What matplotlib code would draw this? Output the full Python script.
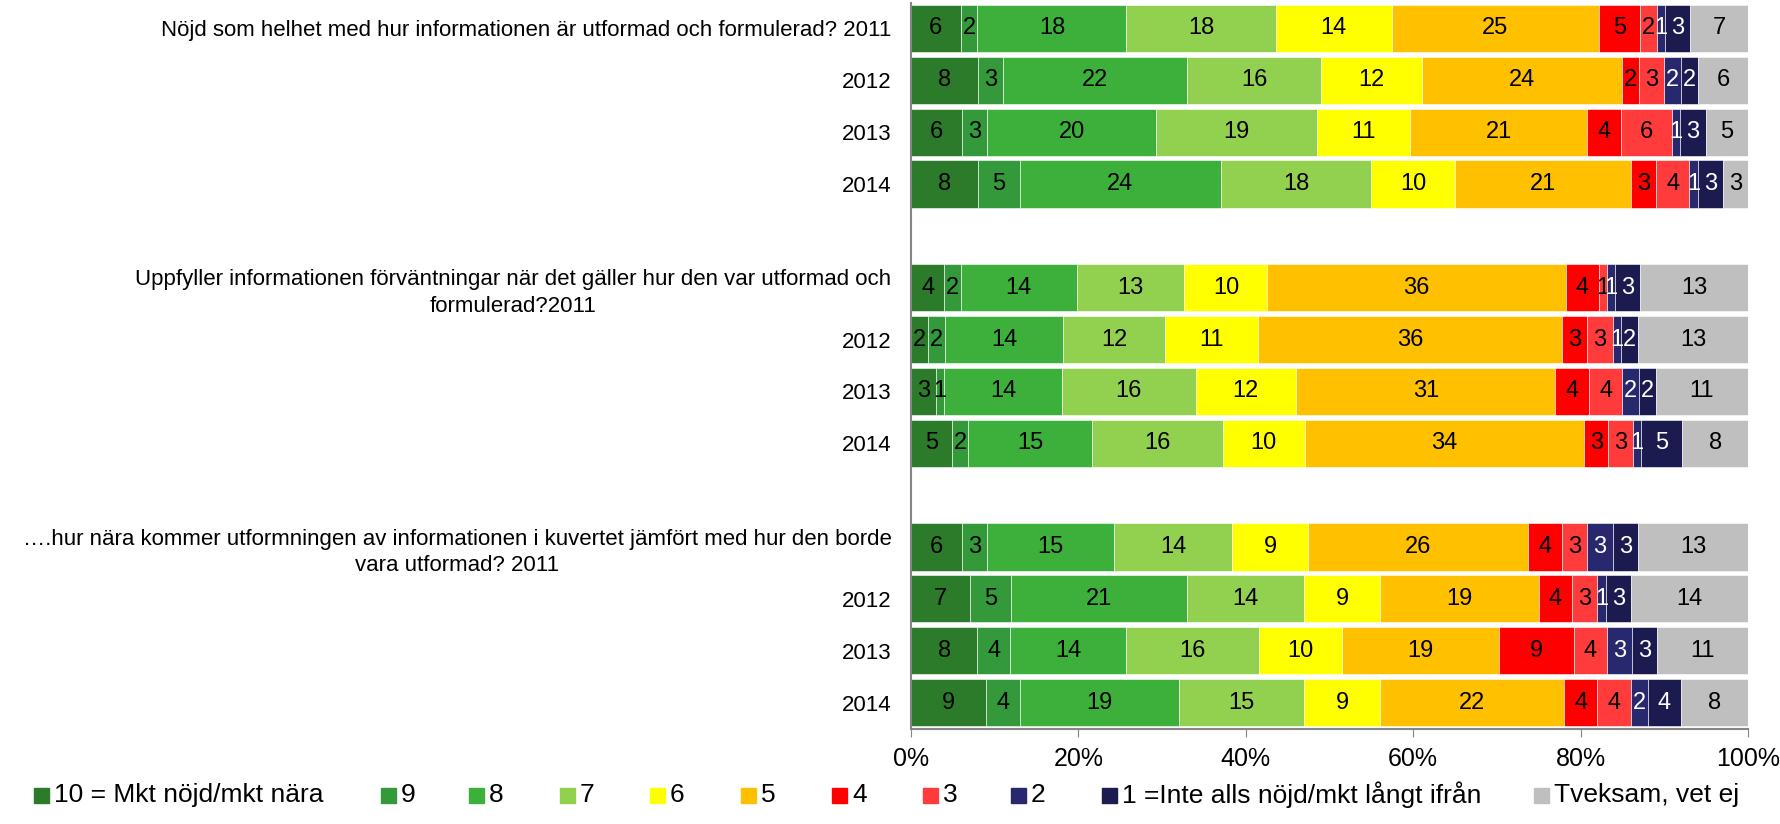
import numpy as np
import matplotlib
matplotlib.use('Agg')
from matplotlib import pyplot as plt
from matplotlib.patches import Rectangle

plt.rcParams['font.family'] = ['Liberation Sans', 'DejaVu Sans']

# categories (top to bottom); empty strings are the gaps between questions
labels = [
    'Nöjd som helhet med hur informationen är utformad och formulerad? 2011',
    '2012', '2013', '2014', '',
    'Uppfyller informationen förväntningar när det gäller hur den var utformad och\nformulerad?2011',
    '2012', '2013', '2014', '',
    '….hur nära kommer utformningen av informationen i kuvertet jämfört med hur den borde\nvara utformad? 2011',
    '2012', '2013', '2014',
]

series = ['10 = Mkt nöjd/mkt nära', '9', '8', '7', '6', '5', '4', '3', '2',
          '1 =Inte alls nöjd/mkt långt ifrån', 'Tveksam, vet ej']
colors = ['#2B7B2B', '#33993A', '#3DB03B', '#92D050', '#FFFF00', '#FFC000',
          '#FF0000', '#FF3B3B', '#28286E', '#1B1B4F', '#BFBFBF']
text_colors = ['black'] * 8 + ['white', 'white', 'black']

# values per row, in series order (None = empty row)
values = [
    [6, 2, 18, 18, 14, 25, 5, 2, 1, 3, 7],
    [8, 3, 22, 16, 12, 24, 2, 3, 2, 2, 6],
    [6, 3, 20, 19, 11, 21, 4, 6, 1, 3, 5],
    [8, 5, 24, 18, 10, 21, 3, 4, 1, 3, 3],
    None,
    [4, 2, 14, 13, 10, 36, 4, 1, 1, 3, 13],
    [2, 2, 14, 12, 11, 36, 3, 3, 1, 2, 13],
    [3, 1, 14, 16, 12, 31, 4, 4, 2, 2, 11],
    [5, 2, 15, 16, 10, 34, 3, 3, 1, 5, 8],
    None,
    [6, 3, 15, 14, 9, 26, 4, 3, 3, 3, 13],
    [7, 5, 21, 14, 9, 19, 4, 3, 1, 3, 14],
    [8, 4, 14, 16, 10, 19, 9, 4, 3, 3, 11],
    [9, 4, 19, 15, 9, 22, 4, 4, 2, 4, 8],
]

W, H = 1781, 824
fig = plt.figure(figsize=(W / 100, H / 100), dpi=100)
ax = fig.add_axes([911 / W, 1 - 728.5 / H, (1748 - 911) / W, (728.5 - 2.5) / H])

n = len(labels)
ypos = np.arange(n)
for i, row in enumerate(values):
    if row is None:
        continue
    row = np.array(row, dtype=float)
    pct = row / row.sum() * 100
    left = 0
    for j, (v, p) in enumerate(zip(row, pct)):
        ax.barh(i, p, left=left, height=0.91, color=colors[j], edgecolor='white', linewidth=0.4)
        ax.text(left + p / 2, i, '%d' % v, ha='center', va='center',
                fontsize=17, color=text_colors[j])
        left += p

ax.set_ylim(n - 0.5, -0.5)
ax.set_xlim(0, 100)
ax.set_yticks(ypos)
ax.set_yticklabels(labels, fontsize=16)
for lbl in ax.get_yticklabels():
    lbl.set_multialignment('center')
    lbl.set_linespacing(1.35)
ax.tick_params(axis='y', length=0, pad=14)
ax.set_xticks(np.arange(0, 101, 20))
ax.set_xticklabels(['%d%%' % t for t in range(0, 101, 20)], fontsize=18)
ax.tick_params(axis='x', direction='out', length=6, color='#868686', pad=7)
for s in ['top', 'right']:
    ax.spines[s].set_visible(False)
for s in ['left', 'bottom']:
    ax.spines[s].set_color('#868686')
    ax.spines[s].set_linewidth(1.5)

# legend, laid out like the original
leg_x = [34, 381, 469, 560, 650, 741, 832, 923, 1011, 1102, 1534]
leg_y = 795
sq = 15
for x, name, c in zip(leg_x, series, colors):
    fig.patches.append(Rectangle((x / W, (H - leg_y - sq / 2) / H), sq / W, sq / H,
                                 transform=fig.transFigure, color=c))
    fig.text((x + sq + 5) / W, (H - leg_y) / H, name, ha='left', va='center', fontsize=19)

fig.savefig('out.png', dpi=100)
